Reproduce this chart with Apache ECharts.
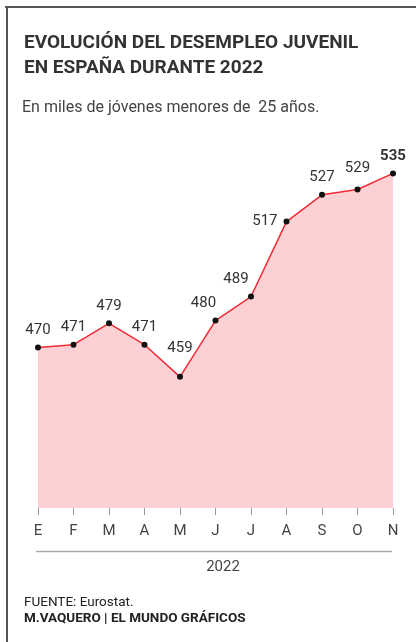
<!DOCTYPE html>
<html>
<head>
<meta charset="utf-8">
<script src="https://cdn.jsdelivr.net/npm/echarts@6/dist/echarts.min.js"></script>
<style>
html,body{margin:0;padding:0;background:#fff;}
#c{width:416px;height:642px;}
</style>
</head>
<body>
<div id="c"></div>
<script>
const months = ['E','F','M','A','M','J','J','A','S','O','N'];
const values = [470, 471, 479, 471, 459, 480, 489, 517, 527, 529, 535];
const yearLabel = '2022';
const titleText = 'EVOLUCIÓN DEL DESEMPLEO JUVENIL\nEN ESPAÑA DURANTE 2022';
const subtitleText = 'En miles de jóvenes menores de  25 años.';
const sourceText = 'FUENTE: Eurostat.';
const creditText = 'M.VAQUERO | EL MUNDO GRÁFICOS';

// label styling per point index (presentation only)
const labelStyle = {
  4: {distance: 18},
  5: {offset: [-12, 0]},
  6: {offset: [-15, 0]},
  7: {position: 'left', distance: 6},
  9: {distance: 11},
  10: {fontWeight: 'bold'}
};

const chart = echarts.init(document.getElementById('c'), null, {renderer: 'canvas'});
const font = 'Roboto, "Noto Sans", sans-serif';

const seriesData = values.map((v, i) => {
  const item = {value: v};
  if (labelStyle[i]) item.label = Object.assign({}, labelStyle[i]);
  return item;
});

chart.setOption({
  animation: false,
  textStyle: {fontFamily: font},
  title: [
    {text: titleText, left: 19, top: 26,
     textStyle: {fontFamily: font, fontSize: 19, fontWeight: 'bold', color: '#333', lineHeight: 25}},
    {text: subtitleText, left: 17, top: 95,
     textStyle: {fontFamily: font, fontSize: 16, fontWeight: 'normal', color: '#444'}}
  ],
  grid: {left: 38, right: 23, top: 160, bottom: 134},
  xAxis: {
    type: 'category',
    data: months,
    boundaryGap: false,
    axisLine: {show: false},
    axisTick: {show: true, length: 7, lineStyle: {color: '#999', width: 1}},
    axisLabel: {color: '#444', fontSize: 15, margin: 16, fontFamily: font}
  },
  yAxis: {
    type: 'value', min: 410, max: 540, show: false, splitLine: {show: false}
  },
  series: [{
    type: 'line',
    data: seriesData,
    symbol: 'circle',
    symbolSize: 6,
    itemStyle: {color: '#111'},
    lineStyle: {color: '#ef2b36', width: 1.5},
    areaStyle: {color: '#fdd0d3', opacity: 1, origin: 'start'},
    label: {show: true, position: 'top', distance: 7, color: '#333', fontSize: 15, fontFamily: font}
  }],
  graphic: [
    {type: 'line', shape: {x1: 5, y1: 7, x2: 416, y2: 7}, style: {stroke: '#555', lineWidth: 2}},
    {type: 'line', shape: {x1: 7, y1: 6, x2: 7, y2: 642}, style: {stroke: '#555', lineWidth: 2}},
    {type: 'line', shape: {x1: 36, y1: 551.5, x2: 392, y2: 551.5}, style: {stroke: '#aaa', lineWidth: 1.5}},
    {type: 'text', x: 223, y: 567, style: {text: yearLabel, fill: '#444', font: '15px ' + font, textAlign: 'center', textVerticalAlign: 'middle'}},
    {type: 'text', x: 24, y: 603, style: {text: sourceText, fill: '#222', font: '13.5px ' + font, textVerticalAlign: 'middle'}},
    {type: 'text', x: 24, y: 619, style: {text: creditText, fill: '#222', font: 'bold 13.5px ' + font, textVerticalAlign: 'middle'}}
  ]
});
</script>
</body>
</html>
